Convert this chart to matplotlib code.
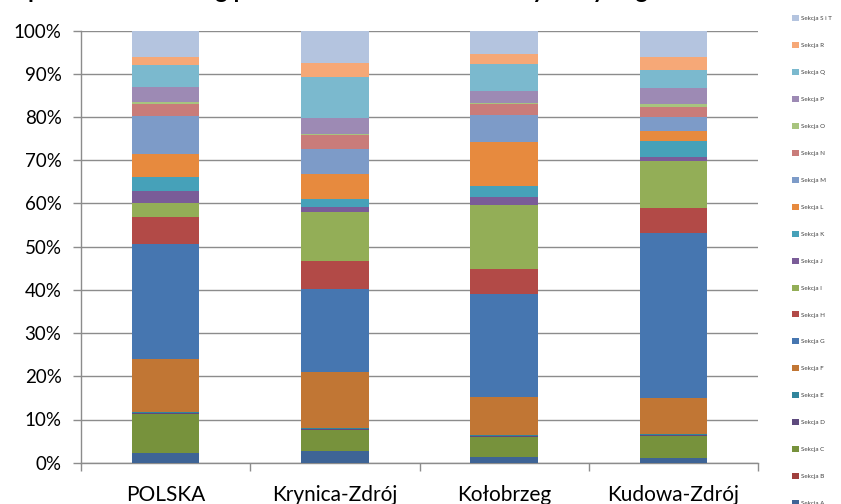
import numpy as np
import matplotlib.pyplot as plt
from matplotlib.ticker import FuncFormatter, FixedLocator

# DANE (udział % sekcji PKD, od dołu do góry)
kategorie = ['POLSKA', 'Krynica-Zdrój', 'Kołobrzeg', 'Kudowa-Zdrój']
sekcje = ['Sekcja A', 'Sekcja B', 'Sekcja C', 'Sekcja D', 'Sekcja E', 'Sekcja F',
          'Sekcja G', 'Sekcja H', 'Sekcja I', 'Sekcja J', 'Sekcja K', 'Sekcja L',
          'Sekcja M', 'Sekcja N', 'Sekcja O', 'Sekcja P', 'Sekcja Q', 'Sekcja R',
          'Sekcja S i T']

polska = [2.2, 0.1, 8.9, 0.3, 0.3, 12.1, 26.7, 6.3, 3.3, 2.7, 3.2, 5.4,
          8.8, 2.7, 0.6, 3.4, 5.1, 1.8, 6.1]
krynica = [2.6, 0.1, 4.9, 0.1, 0.3, 13.1, 19.0, 6.5, 11.5, 1.1, 1.8, 5.9,
           5.6, 3.3, 0.4, 3.6, 9.4, 3.3, 7.5]
kolobrzeg = [1.3, 0.1, 4.5, 0.2, 0.3, 8.9, 23.8, 5.8, 14.8, 1.9, 2.5, 10.1,
             6.3, 2.5, 0.3, 2.7, 6.3, 2.2, 5.5]
kudowa = [1.0, 0.1, 5.1, 0.1, 0.4, 8.3, 38.2, 5.7, 10.9, 1.0, 3.6, 2.3,
          3.3, 2.4, 0.6, 3.8, 4.0, 3.0, 6.2]

kolory = ['#3E6496', '#A0403D', '#77923C', '#5E4A7E', '#31859C', '#C17634',
          '#4676B0', '#B24A47', '#93AE57', '#7A5C98', '#46A1B9', '#E78A3E',
          '#7D9BC8', '#C97C7A', '#A8C47E', '#9D8AB4', '#7BB9CE', '#F6A877',
          '#B4C4DF']

plt.rcParams['font.family'] = ['Lato', 'DejaVu Sans']

dane = np.array([polska, krynica, kolobrzeg, kudowa])
dane = dane / dane.sum(axis=1, keepdims=True)

fig = plt.figure(figsize=(8.41, 5.04), dpi=100)
ax = fig.add_axes([81/841, 41.3/504, 677/841, 432/504])

x = np.arange(len(kategorie))
dol = np.zeros(len(kategorie))
uchwyty = []
for i, nazwa in enumerate(sekcje):
    b = ax.bar(x, dane[:, i], 0.4, bottom=dol, color=kolory[i], label=nazwa, zorder=3)
    uchwyty.append(b)
    dol += dane[:, i]

ax.set_xlim(-0.5, 3.5)
ax.set_ylim(0, 1)
ax.set_yticks(np.arange(0, 1.01, 0.1))
ax.yaxis.set_major_formatter(FuncFormatter(lambda v, p: f'{v*100:.0f}%'))
ax.grid(axis='y', color='#8C8C8C', linewidth=1, zorder=0)

ax.set_xticks(x)
ax.set_xticklabels(kategorie, fontsize=15)
ax.xaxis.set_minor_locator(FixedLocator(np.arange(-0.5, 4, 1)))
ax.tick_params(axis='x', which='major', length=0, pad=16)
ax.tick_params(axis='x', which='minor', length=6, color='#8C8C8C', width=1)
ax.tick_params(axis='y', length=6, color='#8C8C8C', width=1, labelsize=13.5, pad=8)

for s in ['top', 'right']:
    ax.spines[s].set_visible(False)
for s in ['left', 'bottom']:
    ax.spines[s].set_color('#8C8C8C')
    ax.spines[s].set_linewidth(1)

# tytuł (obcięty u góry jak w oryginale)
fig.text(0.018, 1.0 + 2/504, 'Spółki handlowe wg przedmiotu działalności w wybranych gminach',
         fontsize=17, fontweight='bold', va='baseline', ha='left')

leg = fig.legend(uchwyty[::-1], sekcje[::-1], loc='upper left',
                 bbox_to_anchor=(789/841, 1 - 12/504), frameon=False,
                 fontsize=4.5, handlelength=1.1, handleheight=1.1,
                 handletextpad=0.3, labelspacing=3.33, borderpad=0)
for t in leg.get_texts():
    t.set_color('#404040')

fig.savefig('out.png', dpi=100)
